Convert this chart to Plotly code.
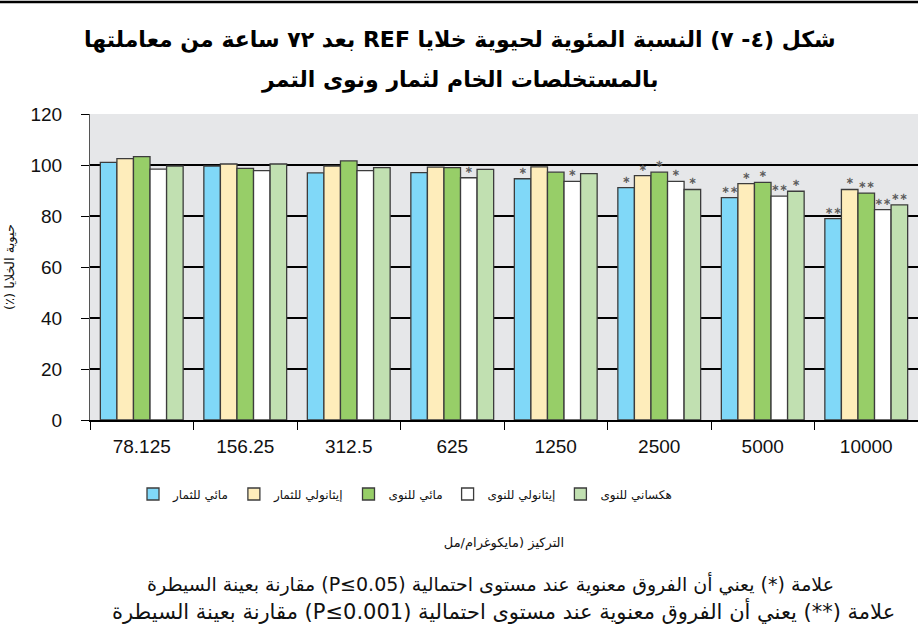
import plotly.graph_objects as go

categories = ["78.125", "156.25", "312.5", "625", "1250", "2500", "5000", "10000"]

series_names = ["مائي للثمار", "إيثانولي للثمار", "مائي للنوى", "إيثانولي للنوى", "هكساني للنوى"]

aq_fruit = [101.0, 99.6, 96.9, 97.0, 94.6, 91.1, 87.2, 79.0]
eth_fruit = [102.5, 100.4, 99.6, 99.2, 99.3, 95.8, 92.7, 90.4]
aq_seed = [103.3, 98.7, 101.6, 99.0, 97.2, 97.2, 93.2, 89.0]
eth_seed = [98.4, 97.8, 97.8, 95.0, 93.6, 93.6, 87.8, 82.5]
hex_seed = [99.6, 100.4, 99.0, 98.3, 96.6, 90.4, 89.7, 84.4]

sig_aq_fruit = ["", "", "", "", "∗", "∗", "∗∗", "∗∗"]
sig_eth_fruit = ["", "", "", "", "", "∗", "∗", "∗"]
sig_aq_seed = ["", "", "", "", "", "∗", "∗", "∗∗"]
sig_eth_seed = ["", "", "", "∗", "∗", "∗", "∗∗", "∗∗"]
sig_hex_seed = ["", "", "", "", "", "∗", "∗", "∗∗"]

colors = ["#80d8f8", "#feedbb", "#97ce68", "#ffffff", "#c1e0b1"]

title_line1 = "شكل (٤- ٧) النسبة المئوية لحيوية خلايا REF بعد ٧٢ ساعة من معاملتها"
title_line2 = "بالمستخلصات الخام لثمار ونوى التمر"
y_title = "حيوية الخلايا (٪)"
x_title = "التركيز (مايكوغرام/مل"
note1 = "علامة (*) يعني أن الفروق معنوية عند مستوى احتمالية (P≤0.05) مقارنة بعينة السيطرة"
note2 = "علامة (**) يعني أن الفروق معنوية عند مستوى احتمالية (P≤0.001) مقارنة بعينة السيطرة"

RLE, PDF = "\u202B", "\u202C"
def rtl(s):
    return RLE + s + PDF

AR = "DejaVu Sans"
NUM = "Liberation Sans, Arial, sans-serif"

values = [aq_fruit, eth_fruit, aq_seed, eth_seed, hex_seed]
sigs = [sig_aq_fruit, sig_eth_fruit, sig_aq_seed, sig_eth_seed, sig_hex_seed]

fig = go.Figure()
for name, vals, sig, col in zip(series_names, values, sigs, colors):
    fig.add_trace(go.Bar(
        x=categories, y=vals, name=rtl(name),
        marker=dict(color=col, line=dict(color="#3c3c3c", width=1.3)),
        text=sig, textposition="outside", textangle=0,
        constraintext="none", cliponaxis=False,
        textfont=dict(size=10, color="#5e5e5e", family="DejaVu Sans", weight="bold"),
    ))

W, H = 918, 639
L, R, T, B = 90, 0, 114, 219
pw = W - L - R
ph = H - T - B

def px_x(x):
    return (x - L) / pw

def px_y(y):
    return (H - B - y) / ph

fig.update_layout(
    width=W, height=H,
    margin=dict(l=L, r=R, t=T, b=B, pad=0),
    paper_bgcolor="white",
    plot_bgcolor="#e6e7e9",
    barmode="group",
    bargap=0.2,
    bargroupgap=0.0,
    showlegend=True,
    legend=dict(
        orientation="h", xref="paper", yref="paper",
        x=px_x(405), xanchor="center", y=px_y(494), yanchor="middle",
        font=dict(family=AR, size=12, color="#111111"),
        itemwidth=30,
        bgcolor="rgba(0,0,0,0)", traceorder="normal",
    ),
    xaxis=dict(
        type="category", automargin=False,
        showline=True, linecolor="#000000", linewidth=1.5,
        ticks="outside", ticklen=8, tickwidth=1.3, tickcolor="#000000",
        tickson="boundaries", showgrid=False,
        tickfont=dict(family=NUM, size=19, color="#111111"),
        ticklabelstandoff=8,
        title=dict(text=rtl(x_title), font=dict(family=AR, size=13, color="#111111"), standoff=82),
    ),
    yaxis=dict(
        range=[0, 120], dtick=20, automargin=False,
        showline=True, linecolor="#555555", linewidth=1,
        ticks="outside", ticklen=8, tickwidth=1.3, tickcolor="#000000",
        showgrid=True, gridcolor="#000000", gridwidth=1.6,
        zeroline=False,
        tickfont=dict(family=NUM, size=19, color="#111111"),
        ticklabelstandoff=15,
        title=dict(text=rtl(y_title), font=dict(family=AR, size=13, color="#111111"), standoff=12),
    ),
    annotations=[
        dict(text=rtl(title_line1), xref="paper", yref="paper",
             x=px_x(460), y=px_y(40), xanchor="center", yanchor="middle",
             showarrow=False, font=dict(family=AR, size=22, color="#000000", weight="bold")),
        dict(text=rtl(title_line2), xref="paper", yref="paper",
             x=px_x(459), y=px_y(80), xanchor="center", yanchor="middle",
             showarrow=False, font=dict(family=AR, size=22, color="#000000", weight="bold")),
        dict(text=rtl(note1), xref="paper", yref="paper",
             x=px_x(490), y=px_y(584), xanchor="center", yanchor="middle",
             showarrow=False, font=dict(family=AR, size=19, color="#111111")),
        dict(text=rtl(note2), xref="paper", yref="paper",
             x=px_x(503), y=px_y(611), xanchor="center", yanchor="middle",
             showarrow=False, font=dict(family=AR, size=21, color="#111111")),
    ],
    shapes=[
        dict(type="line", xref="paper", yref="paper",
             x0=px_x(0), x1=px_x(W), y0=px_y(2), y1=px_y(2),
             line=dict(color="#000000", width=2.5)),
    ],
)

fig.write_html(
    "out.html",
    config={"displayModeBar": False},
    post_script="document.body.style.margin='0px';document.body.style.padding='0px';",
)
